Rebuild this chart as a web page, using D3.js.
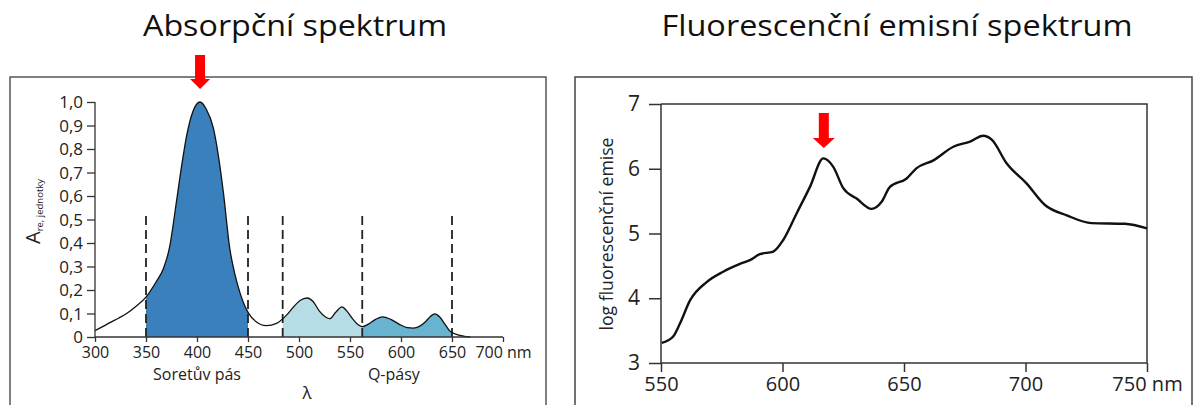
<!DOCTYPE html>
<html><head><meta charset="utf-8">
<script src="https://cdn.jsdelivr.net/npm/d3@7"></script>
<style>
html,body{margin:0;padding:0;background:#fff;}
svg{display:block;}
text{font-family:"Open Sans","Noto Sans",sans-serif;fill:#222;}
</style></head>
<body>
<svg id="c" width="1194" height="405"></svg>
<script>
// ---------- DATA ----------
const titles = ["Absorpční spektrum", "Fluorescenční emisní spektrum"];

// Absorption spectrum (nm, relative absorbance)
const absNm  = [300,308,315,323,331,340,350,360,367,373,380,385,390,396,403,409,416,421,426,432,437,442,450,458,468,478,488,495,501,508,514,520,526,530,536,542,547,553,558,562,568,575,582,590,598,606,612,618,624,629,633,638,643,648,655,662,668];
const absVal = [0.027,0.045,0.062,0.08,0.10,0.13,0.17,0.235,0.29,0.38,0.58,0.73,0.86,0.96,1.0,0.97,0.89,0.77,0.61,0.38,0.27,0.19,0.105,0.065,0.048,0.058,0.094,0.13,0.155,0.166,0.15,0.11,0.085,0.078,0.105,0.128,0.11,0.075,0.052,0.044,0.055,0.075,0.086,0.075,0.055,0.04,0.038,0.045,0.065,0.088,0.098,0.085,0.055,0.025,0.01,0.003,0];
const absXTicks = [300,350,400,450,500,550,600,650,700];
const absXLabels = ["300","350","400","450","500","550","600","650","700 nm"];
const absYTicks = [0,0.1,0.2,0.3,0.4,0.5,0.6,0.7,0.8,0.9,1.0];
const absYLabels = ["0","0,1","0,2","0,3","0,4","0,5","0,6","0,7","0,8","0,9","1,0"];
const bandEdges = [350,450,484,562,650];          // dashed lines
const bands = [[350,450],[484,562],[562,650]];     // shaded regions
const bandColors = ["#3a80bd","#b6dce6","#68b3d0"];
const bandLabels = ["Soretův pás","Q-pásy"];
const bandLabelNm = [400,593];
const bandLineTop = 0.53;
const absPeakNm = 403;

// Fluorescence emission spectrum (nm, log emission)
const emNm  = [550.3,555,557.8,562,568.8,575.6,582.5,586.6,590.7,596.2,600.3,605.8,611.3,616.8,620.9,625,630.5,636.7,640.8,644.2,651.1,655.2,662.1,670.3,677.2,682.6,686.1,692.3,700.5,708,717,727.2,740.9,750];
const emVal = [3.31,3.41,3.61,3.97,4.25,4.41,4.53,4.59,4.68,4.72,4.90,5.31,5.72,6.16,6.03,5.70,5.54,5.38,5.49,5.72,5.85,6.01,6.13,6.34,6.42,6.51,6.45,6.08,5.77,5.44,5.28,5.16,5.15,5.08];
const emXTicks = [550,600,650,700,750];
const emXLabels = ["550","600","650","700","750 nm"];
const emYTicks = [3,4,5,6,7];
const emPeakNm = 617;

// ---------- DRAW ----------
const svg = d3.select("#c");

// titles
svg.append("text").attr("x",295).attr("y",36).attr("text-anchor","middle")
  .attr("textLength",304).attr("lengthAdjust","spacingAndGlyphs")
  .style("font-family","'Open Sans',sans-serif").style("font-size","29px").style("fill","#111").text(titles[0]);
svg.append("text").attr("x",897).attr("y",36).attr("text-anchor","middle")
  .attr("textLength",471).attr("lengthAdjust","spacingAndGlyphs")
  .style("font-family","'Open Sans',sans-serif").style("font-size","29px").style("fill","#111").text(titles[1]);

// outer frames
svg.append("rect").attr("x",10).attr("y",77).attr("width",536).attr("height",360)
  .attr("fill","none").attr("stroke","#555").attr("stroke-width",1.5);
svg.append("rect").attr("x",575).attr("y",77).attr("width",617).attr("height",360)
  .attr("fill","none").attr("stroke","#444").attr("stroke-width",1.5);

// ---- left chart ----
const xL = d3.scaleLinear().domain([300,700]).range([95,503]);
const yL = d3.scaleLinear().domain([0,1]).range([337,102]);
const absData = absNm.map((d,i)=>({x:d,y:absVal[i]}));
const gL = svg.append("g");

const defs = svg.append("defs");
bands.forEach((b,i)=>{
  defs.append("clipPath").attr("id","band"+i).append("rect")
    .attr("x",xL(b[0])).attr("y",0).attr("width",xL(b[1])-xL(b[0])).attr("height",405);
});
const areaL = d3.area().x(d=>xL(d.x)).y0(yL(0)).y1(d=>yL(d.y)).curve(d3.curveMonotoneX);
bands.forEach((b,i)=>{
  gL.append("path").datum(absData).attr("d",areaL).attr("fill",bandColors[i])
    .attr("clip-path","url(#band"+i+")");
});

// dashed lines
gL.selectAll("line.dash").data(bandEdges).join("line")
  .attr("x1",d=>xL(d)).attr("x2",d=>xL(d)).attr("y1",yL(0)).attr("y2",yL(bandLineTop))
  .attr("stroke","#222").attr("stroke-width",1.8).attr("stroke-dasharray","9,5");

// curve
const lineL = d3.line().x(d=>xL(d.x)).y(d=>yL(d.y)).curve(d3.curveMonotoneX);
gL.append("path").datum(absData).attr("d",lineL).attr("fill","none").attr("stroke","#111").attr("stroke-width",1.3);

// axes
const axL = gL.append("g").attr("transform",`translate(${xL(300)},0)`)
  .call(d3.axisLeft(yL).tickValues(absYTicks).tickFormat((d,i)=>absYLabels[i]).tickSize(8).tickPadding(4));
axL.select(".domain").attr("stroke","#333").attr("stroke-width",1.3).attr("d",`M0,${yL(1)}V${yL(0)}`);
axL.selectAll(".tick line").attr("stroke","#333").attr("stroke-width",1.3);
axL.selectAll(".tick text").style("font-size","17px").style("fill","#222").attr("dy","0.35em");

const axB = gL.append("g").attr("transform",`translate(0,${yL(0)})`)
  .call(d3.axisBottom(xL).tickValues(absXTicks).tickFormat((d,i)=>absXLabels[i]).tickSize(5).tickPadding(5));
axB.select(".domain").attr("stroke","#333").attr("stroke-width",1.3).attr("d",`M${xL(300)},0H${xL(700)}`);
axB.selectAll(".tick line").attr("stroke","#333").attr("stroke-width",1.3);
axB.selectAll(".tick text").style("font-size","16px").style("fill","#222");

// band labels and lambda
bandLabels.forEach((t,i)=>{
  gL.append("text").attr("x",xL(bandLabelNm[i])).attr("y",380).attr("text-anchor","middle")
    .style("font-size","16px").text(t);
});
gL.append("text").attr("x",307).attr("y",399).attr("text-anchor","middle").style("font-size","17px").text("λ");

// y label A_re, jednotky
const yLab = gL.append("text").attr("transform","translate(40,244) rotate(-90)").attr("text-anchor","start");
yLab.append("tspan").style("font-size","20px").text("A");
yLab.append("tspan").attr("dy","3").style("font-size","9.5px").text("re, jednotky");

// ---- right chart ----
const xR = d3.scaleLinear().domain([550,750]).range([661,1147]);
const yR = d3.scaleLinear().domain([3,7]).range([363,104]);
const emData = emNm.map((d,i)=>({x:d,y:emVal[i]}));
const gR = svg.append("g");

gR.append("path").attr("d",`M${xR(550)},${yR(7)}H${xR(750)}V${yR(3)}`)
  .attr("fill","none").attr("stroke","#333").attr("stroke-width",1.5);

const axRL = gR.append("g").attr("transform",`translate(${xR(550)},0)`)
  .call(d3.axisLeft(yR).tickValues(emYTicks).tickFormat(d3.format("d")).tickSize(12).tickPadding(9));
axRL.select(".domain").attr("stroke","#333").attr("stroke-width",1.5).attr("d",`M0,${yR(7)}V${yR(3)}`);
axRL.selectAll(".tick line").attr("stroke","#333").attr("stroke-width",1.5);
axRL.selectAll(".tick text").style("font-size","21px").style("fill","#222");

const axRB = gR.append("g").attr("transform",`translate(0,${yR(3)})`)
  .call(d3.axisBottom(xR).tickValues(emXTicks).tickFormat((d,i)=>emXLabels[i]).tickSize(9).tickPadding(5));
axRB.select(".domain").attr("stroke","#333").attr("stroke-width",1.5).attr("d",`M${xR(550)},0H${xR(750)}`);
axRB.selectAll(".tick line").attr("stroke","#333").attr("stroke-width",1.5);
axRB.selectAll(".tick text").style("font-size","20px").style("fill","#222");

const lineR = d3.line().x(d=>xR(d.x)).y(d=>yR(d.y)).curve(d3.curveMonotoneX);
gR.append("path").datum(emData).attr("d",lineR).attr("fill","none").attr("stroke","#111").attr("stroke-width",2.4);

gR.append("text").attr("transform","translate(613,234) rotate(-90)").attr("text-anchor","middle")
  .attr("textLength",193).attr("lengthAdjust","spacingAndGlyphs")
  .style("font-size","19px").text("log fluorescenční emise");

// ---- red arrows ----
function arrow(cx, top, headStart, tip, hs, hh){
  return `M${cx-hs},${top}H${cx+hs}V${headStart}H${cx+hh}L${cx},${tip}L${cx-hh},${headStart}H${cx-hs}Z`;
}
svg.append("path").attr("d",arrow(xL(absPeakNm),55,79,89,5,10)).attr("fill","#f00");
svg.append("path").attr("d",arrow(xR(emPeakNm),113,138,148,5,11)).attr("fill","#f00");
</script>
</body></html>
